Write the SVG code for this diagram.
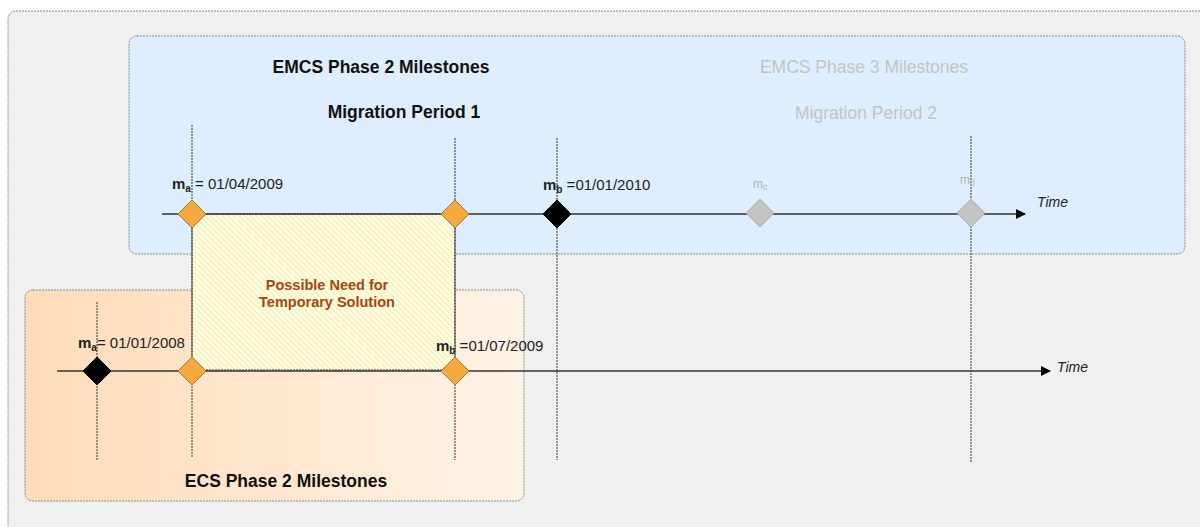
<svg xmlns="http://www.w3.org/2000/svg" width="1200" height="527" viewBox="0 0 1200 527">
<defs>
<style>
.box{stroke:#8a8a8a;stroke-width:1;stroke-dasharray:2 1}
.vl{stroke:#333;stroke-width:1;stroke-dasharray:2 1;fill:none}
.axis{stroke:#333;stroke-width:1.4;fill:none}
.t{font-family:"Liberation Sans",Arial,sans-serif}
.title{font-size:17.5px;font-weight:bold;fill:#111}
.grey{font-size:17.5px;fill:#c4c4c4}
.lbl{font-size:15px;fill:#222}
.time{font-size:14px;font-style:italic;fill:#222}
.dOr{fill:#f5aa40;stroke:#9a7a40;stroke-width:1}
.dBk{fill:#000;stroke:#000;stroke-width:1}
.dGr{fill:#c4c4c4;stroke:#b0b0b0;stroke-width:1}
</style>
<marker id="arr" markerWidth="10" markerHeight="10" refX="9" refY="5" orient="auto" markerUnits="userSpaceOnUse">
<path d="M0,0 L10,5 L0,10 Z" fill="#000"/>
</marker>
<linearGradient id="og" x1="0" y1="0" x2="1" y2="0">
<stop offset="0" stop-color="#fedcb9"/>
<stop offset="1" stop-color="#fff2e6"/>
</linearGradient>
<pattern id="hatch" width="4" height="4" patternUnits="userSpaceOnUse" patternTransform="rotate(-45)">
<rect width="4" height="4" fill="#fffde2"/>
<line x1="0" y1="0" x2="0" y2="4" stroke="#f1e69a" stroke-width="1.5"/>
</pattern>
</defs>

<g id="background">
<rect x="8" y="11" width="1210" height="540" rx="8" fill="#f0f0f0" class="box"/>
</g>

<g id="emcs-box">
<rect x="129" y="36" width="1056" height="218" rx="8" fill="#deeefe" class="box"/>
</g>

<g id="ecs-box">
<rect x="25" y="290" width="499" height="211" rx="8" fill="url(#og)" class="box"/>
</g>

<g id="temp-solution">
<rect x="192" y="214" width="263" height="156" fill="url(#hatch)" stroke="#333" stroke-width="1" stroke-dasharray="2 1"/>
<text class="t" x="327" y="290" text-anchor="middle" font-size="14.5" font-weight="bold" fill="#a3470f">Possible Need for</text>
<text class="t" x="327" y="307" text-anchor="middle" font-size="14.5" font-weight="bold" fill="#a3470f">Temporary Solution</text>
</g>

<g id="connectors">
<line class="vl" x1="192" y1="125" x2="192" y2="458"/>
<line class="vl" x1="455" y1="138" x2="455" y2="460"/>
<line class="vl" x1="557" y1="138" x2="557" y2="460"/>
<line class="vl" x1="971" y1="136" x2="971" y2="462"/>
<line class="vl" x1="97" y1="302" x2="97" y2="460"/>
<line class="axis" x1="162" y1="214" x2="1025" y2="214" marker-end="url(#arr)"/>
<line class="axis" x1="57" y1="371" x2="1050" y2="371" marker-end="url(#arr)"/>
</g>

<g id="titles">
<text class="t title" x="381" y="73" text-anchor="middle">EMCS Phase 2 Milestones</text>
<text class="t title" x="404" y="118" text-anchor="middle">Migration Period 1</text>
<text class="t grey" x="864" y="73" text-anchor="middle">EMCS Phase 3 Milestones</text>
<text class="t grey" x="866" y="119" text-anchor="middle">Migration Period 2</text>
<text class="t title" x="286" y="487" text-anchor="middle">ECS Phase 2 Milestones</text>
</g>

<g id="ms-emcs-a">
<path class="dOr" d="M192,200 L206,214 L192,228 L178,214 Z"/>
<text class="t lbl" x="172" y="189"><tspan font-weight="bold">m</tspan><tspan font-weight="bold" font-size="10" dy="3">a</tspan><tspan dy="-3"> = 01/04/2009</tspan></text>
</g>
<g id="ms-emcs-end1">
<path class="dOr" d="M455,200 L469,214 L455,228 L441,214 Z"/>
</g>
<g id="ms-emcs-b">
<path class="dBk" d="M557,200 L571,214 L557,228 L543,214 Z"/>
<text class="t lbl" x="543" y="190"><tspan font-weight="bold">m</tspan><tspan font-weight="bold" font-size="10" dy="3">b</tspan><tspan dy="-3"> =</tspan><tspan>01/01/2010</tspan></text>
</g>
<g id="ms-emcs-c">
<path class="dGr" d="M760,199 L774,213 L760,227 L746,213 Z"/>
<text class="t" x="753" y="188" font-size="12" fill="#b4b4b4">m<tspan font-size="8.5" dy="2">c</tspan></text>
</g>
<g id="ms-emcs-d">
<path class="dGr" d="M971,199 L985,213 L971,227 L957,213 Z"/>
<text class="t" x="960" y="184" font-size="12" fill="#b4b4b4">m<tspan font-size="8.5" dy="2">d</tspan></text>
</g>
<text class="t time" x="1037" y="207">Time</text>

<g id="ms-ecs-a">
<path class="dBk" d="M97,357 L111,371 L97,385 L83,371 Z"/>
<text class="t lbl" x="78" y="348"><tspan font-weight="bold">m</tspan><tspan font-weight="bold" font-size="10" dy="3">a</tspan><tspan dy="-3">= 01/01/2008</tspan></text>
</g>
<g id="ms-ecs-mid">
<path class="dOr" d="M192,357 L206,371 L192,385 L178,371 Z"/>
</g>
<g id="ms-ecs-b">
<path class="dOr" d="M455,357 L469,371 L455,385 L441,371 Z"/>
<text class="t lbl" x="436" y="351"><tspan font-weight="bold">m</tspan><tspan font-weight="bold" font-size="10" dy="3">b</tspan><tspan dy="-3"> =</tspan><tspan>01/07/2009</tspan></text>
</g>
<text class="t time" x="1057" y="372">Time</text>
</svg>
